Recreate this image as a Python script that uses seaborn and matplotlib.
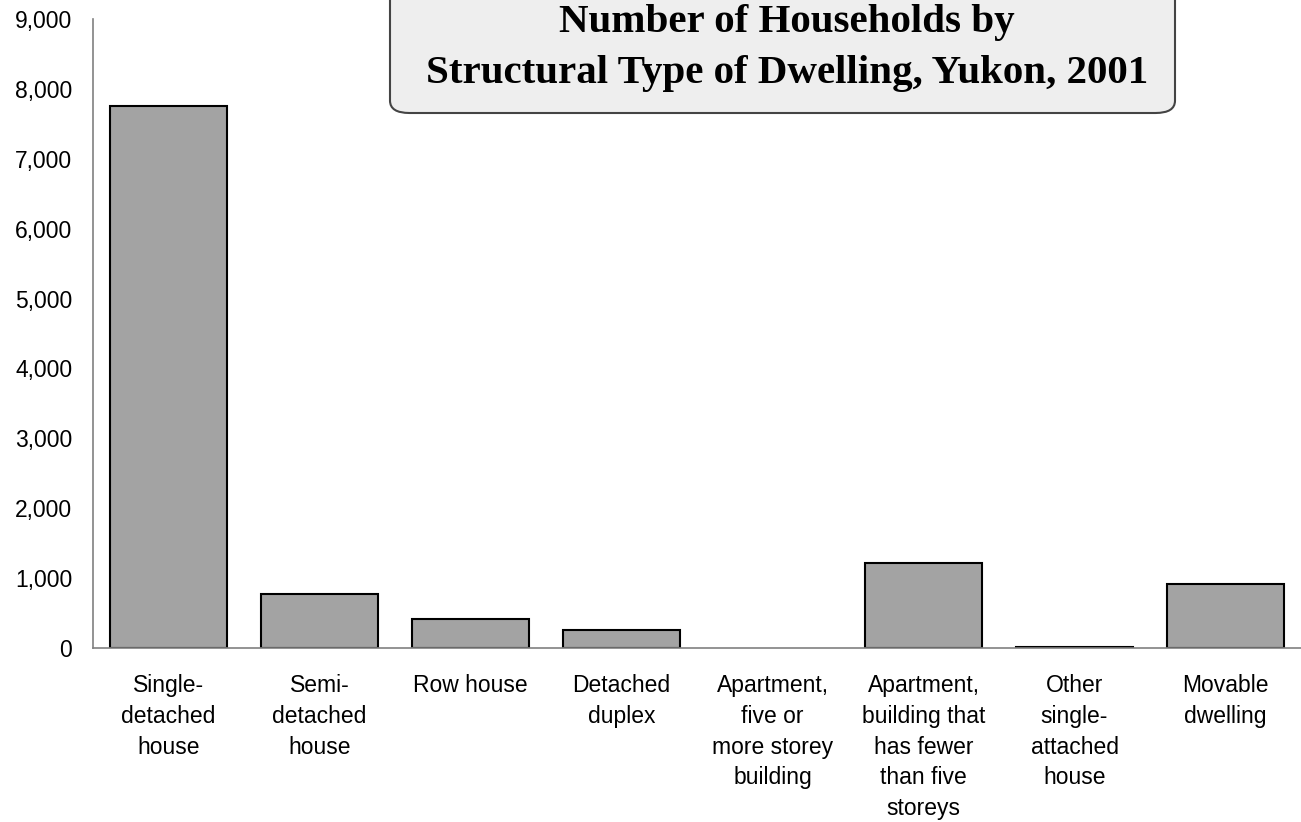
import matplotlib
matplotlib.use("Agg")
import matplotlib.pyplot as plt
from matplotlib.patches import FancyBboxPatch
from matplotlib.ticker import FuncFormatter
import seaborn as sns
import pandas as pd

# data
dwelling_types = ["Single-\ndetached\nhouse", "Semi-\ndetached\nhouse", "Row house",
                  "Detached\nduplex", "Apartment,\nfive or\nmore storey\nbuilding",
                  "Apartment,\nbuilding that\nhas fewer\nthan five\nstoreys",
                  "Other\nsingle-\nattached\nhouse", "Movable\ndwelling"]
households = [7755, 770, 415, 255, 0, 1215, 20, 915]
y_ticks = [0, 1000, 2000, 3000, 4000, 5000, 6000, 7000, 8000, 9000]
title_lines = ["Number of Households by", "Structural Type of Dwelling, Yukon, 2001"]

df = pd.DataFrame({"type": dwelling_types, "households": households})

sns.set_style("white")
plt.rcParams["font.family"] = ["Liberation Sans", "DejaVu Sans"]
plt.rcParams["text.color"] = "black"
plt.rcParams["xtick.color"] = "black"
plt.rcParams["ytick.color"] = "black"

fig = plt.figure(figsize=(13.01, 8.22), dpi=100)
ax = fig.add_axes([93/1301, 174/822, 1208/1301, 629/822])

sns.barplot(data=df, x="type", y="households", ax=ax, color="#a3a3a3",
            edgecolor="black", linewidth=1.5, width=0.77, saturation=1)
for p in ax.patches:
    if p.get_height() == 0:
        p.set_linewidth(0)

ax.set_xlim(-0.5, 7.5)
ax.set_ylim(0, 9000)
ax.set_yticks(y_ticks)
ax.yaxis.set_major_formatter(FuncFormatter(lambda v, pos: f"{int(v):,}"))
ax.set_xlabel("")
ax.set_ylabel("")
ax.tick_params(axis="both", length=0, labelsize=16.5, labelcolor="black")
ax.tick_params(axis="y", pad=15)
ax.tick_params(axis="x", pad=19)
for lab in ax.get_xticklabels():
    lab.set_linespacing(1.42)

for s in ["top", "right"]:
    ax.spines[s].set_visible(False)
for s in ["left", "bottom"]:
    ax.spines[s].set_color("#808080")
    ax.spines[s].set_linewidth(1.2)

# title box
box = FancyBboxPatch((390/1301, 1 - 113/822), 785/1301, 0.2,
                     boxstyle="round,pad=0,rounding_size=0.015",
                     transform=fig.transFigure, facecolor="#eeeeee",
                     edgecolor="#444444", linewidth=1.5, zorder=5)
fig.patches.append(box)
for line, base in zip(title_lines, [32, 83]):
    fig.text(787/1301, 1 - base/822, line, ha="center", va="baseline",
             fontsize=29.5, fontweight="bold", color="black",
             family=["Liberation Serif", "DejaVu Serif"], zorder=6)

fig.savefig("out.png", dpi=100)
